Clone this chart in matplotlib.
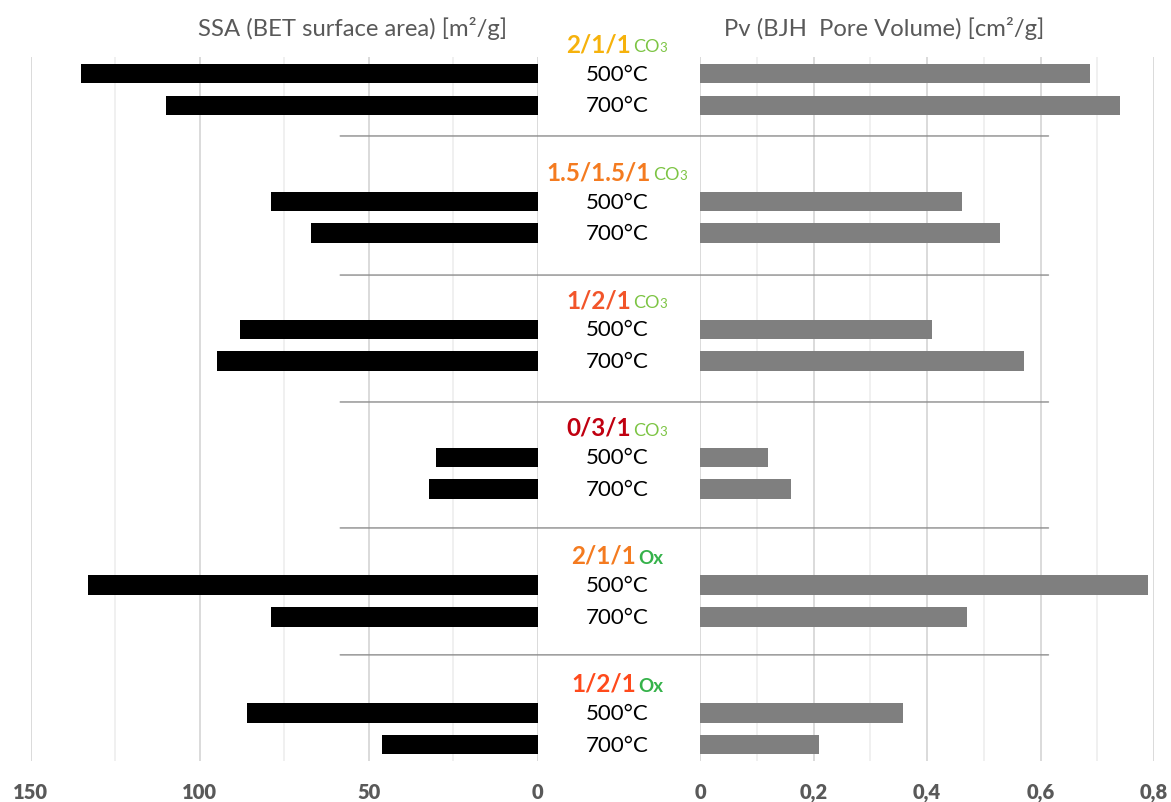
import matplotlib
matplotlib.use("Agg")
import matplotlib.pyplot as plt
from matplotlib import transforms
from matplotlib.patches import ConnectionPatch

# ---------------- data ----------------
groups = ["2/1/1", "1.5/1.5/1", "1/2/1", "0/3/1", "2/1/1", "1/2/1"]
suffixes = ["CO3", "CO3", "CO3", "CO3", "Ox", "Ox"]
group_colors = ["#F6B20C", "#F47B20", "#F2552A", "#C00010", "#F47B20", "#FF4A1C"]
suffix_colors = {"CO3": "#7CC443", "Ox": "#35B24A"}
temps = ["500°C", "700°C"]
ssa_500 = [135, 79, 88, 30, 133, 86]
ssa_700 = [110, 67, 95, 32, 79, 46]
pv_500 = [0.688, 0.461, 0.409, 0.12, 0.79, 0.357]
pv_700 = [0.740, 0.529, 0.570, 0.16, 0.47, 0.209]
ssa_ticks = [150, 100, 50, 0]
pv_ticks = [0, 0.2, 0.4, 0.6, 0.8]
pv_tick_labels = ["0", "0,2", "0,4", "0,6", "0,8"]
left_title = "SSA (BET surface area) [m²/g]"
right_title = "Pv (BJH  Pore Volume) [cm²/g]"

FONT = "Lato"
W, H = 1171, 803
fig = plt.figure(figsize=(W / 100, H / 100), dpi=100)

top_px, bot_px = 58, 761.7
axL = fig.add_axes([30.6 / W, (H - bot_px) / H, (537.6 - 30.6) / W, (bot_px - top_px) / H])
axR = fig.add_axes([700.3 / W, (H - bot_px) / H, (1154 - 700.3) / W, (bot_px - top_px) / H])

n = len(groups)
y500 = [4 * g for g in range(n)]
y700 = [4 * g + 0.99 for g in range(n)]
sep_y = [1.95, 6.30, 10.27, 14.21, 18.18]
bh = 0.61

axL.barh(y500, ssa_500, height=bh, color="black", zorder=3)
axL.barh(y700, ssa_700, height=bh, color="black", zorder=3)
axR.barh(y500, pv_500, height=bh, color="#7F7F7F", zorder=3)
axR.barh(y700, pv_700, height=bh, color="#7F7F7F", zorder=3)

ylim = (21.49, -0.52)
for ax in (axL, axR):
    ax.set_ylim(*ylim)
    ax.set_yticks([])
    for s in ax.spines.values():
        s.set_visible(False)
    ax.tick_params(axis="x", length=0, pad=15, labelsize=14.5, labelcolor="#595959")

axL.set_xlim(150, 0)
axL.set_xticks(ssa_ticks)
axL.set_xticks([125, 75, 25], minor=True)
axR.set_xlim(0, 0.8)
axR.set_xticks(pv_ticks)
axR.set_xticklabels(pv_tick_labels)
axR.set_xticks([0.1, 0.3, 0.5, 0.7], minor=True)
for ax in (axL, axR):
    ax.tick_params(axis="x", which="minor", length=0)
    ax.grid(axis="x", which="major", color="#D4D4D4", linewidth=1.2, zorder=0)
    ax.grid(axis="x", which="minor", color="#EDEDED", linewidth=1.2, zorder=0)
    for lab in ax.get_xticklabels():
        lab.set_fontweight("heavy")
        lab.set_fontfamily(FONT)

# separators
for ys in sep_y:
    con = ConnectionPatch(xyA=(58.4, ys), coordsA=axL.transData,
                          xyB=(0.614, ys), coordsB=axR.transData,
                          color="#8C8C8C", linewidth=1.0)
    fig.add_artist(con)

# axis titles
fig.text(353 / W, 1 - 28 / H, left_title, ha="center", va="center",
         fontsize=17.2, color="#595959", family=FONT)
fig.text(884 / W, 1 - 28 / H, right_title, ha="center", va="center",
         fontsize=17.2, color="#595959", family=FONT)

# center labels
xc = 617 / W
tr = transforms.blended_transform_factory(fig.transFigure, axL.transData)
for g in range(n):
    fig.text(xc, y500[g], temps[0], transform=tr, ha="center", va="center",
             fontsize=16, color="black", family=FONT)
    fig.text(xc, y700[g], temps[1], transform=tr, ha="center", va="center",
             fontsize=16, color="black", family=FONT)

fig.canvas.draw()
renderer = fig.canvas.get_renderer()
for g in range(n):
    ytitle = 4 * g - 0.70
    t1 = fig.text(0, ytitle, groups[g], transform=tr, ha="left", va="baseline",
                  fontsize=17.5, fontweight="bold", color=group_colors[g], family=FONT)
    sc = suffix_colors[suffixes[g]]
    if suffixes[g] == "CO3":
        t2 = fig.text(0, ytitle, "CO", transform=tr, ha="left", va="baseline",
                      fontsize=13, color=sc, family=FONT)
        t3 = fig.text(0, ytitle, "3", transform=tr, ha="left", va="baseline",
                      fontsize=9.5, color=sc, family=FONT)
        parts = [t1, t2, t3]
    else:
        t2 = fig.text(0, ytitle, "Ox", transform=tr, ha="left", va="baseline",
                      fontsize=13.5, fontweight="bold", color=sc, family=FONT)
        parts = [t1, t2]
    widths = [p.get_window_extent(renderer).width for p in parts]
    gap = 2
    total = sum(widths) + gap
    x = 617 - total / 2
    for i, p in enumerate(parts):
        p.set_x(x / W)
        x += widths[i] + (gap if i == 0 else 0)

fig.savefig("out.png", dpi=100)
